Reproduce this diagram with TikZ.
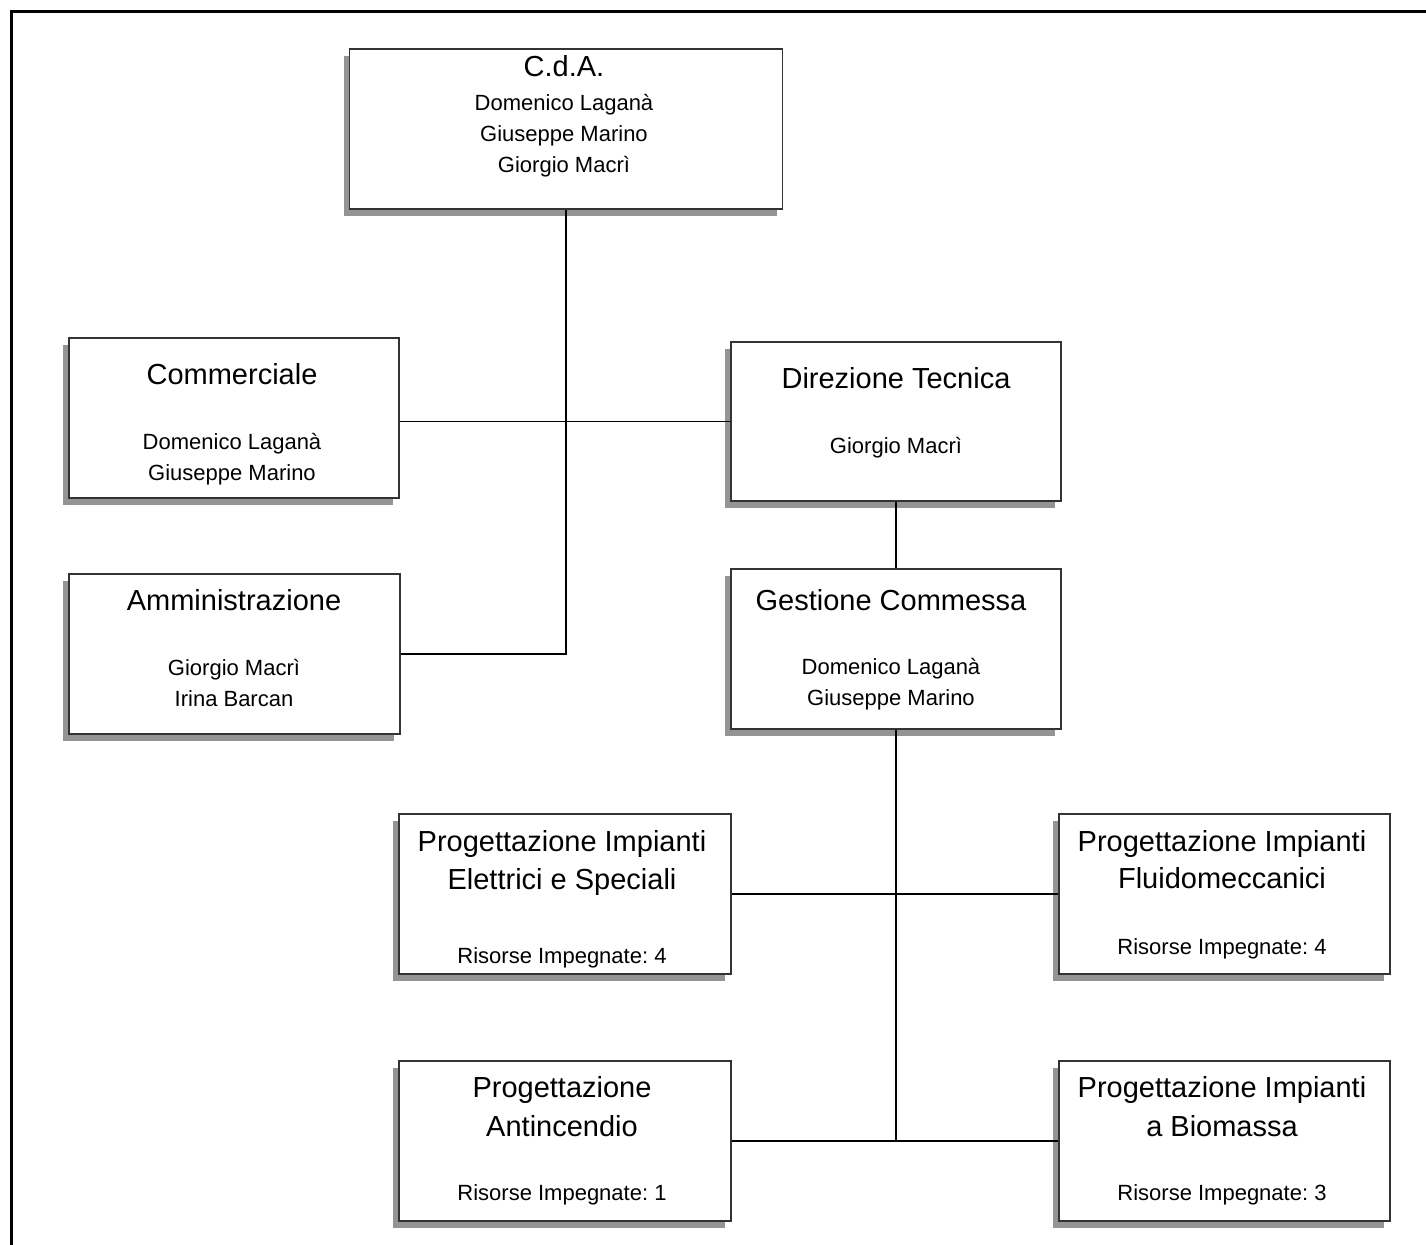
\documentclass[tikz,border=0pt]{standalone}
\usepackage{fontspec}
\setmainfont{Liberation Sans}
\usetikzlibrary{shadows}
\frenchspacing
\tikzset{
  orgbox/.style={draw=black!80, line width=0.65pt, fill=white, inner sep=0pt,
    drop shadow={shadow xshift=-3pt, shadow yshift=-3.5pt, fill=black!42, opacity=1}},
  ttl/.style={anchor=base, inner sep=0pt, font=\fontsize{14.5pt}{17pt}\selectfont},
  nm/.style={anchor=base, inner sep=0pt, font=\fontsize{11pt}{13pt}\selectfont},
  link/.style={draw=black, line width=0.6pt}
}
\begin{document}
\begin{tikzpicture}[x=0.5pt,y=-0.5pt]
\useasboundingbox (0,0) rectangle (1426,1245);
% outer frame (top and left edges visible)
\draw[line width=1.5pt] (11.5,1260) -- (11.5,11.5) -- (1440,11.5);

% boxes
\node[orgbox, minimum width=216.5pt, minimum height=80pt] (cda) at (566,129) {};
\node[orgbox, minimum width=165pt, minimum height=80pt] (com) at (234,418) {};
\node[orgbox, minimum width=165pt, minimum height=79.5pt] (dir) at (896,421.5) {};
\node[orgbox, minimum width=165.5pt, minimum height=80pt] (amm) at (234.5,654) {};
\node[orgbox, minimum width=165pt, minimum height=80pt] (ges) at (896,649) {};
\node[orgbox, minimum width=166pt, minimum height=80pt] (pies) at (565,894) {};
\node[orgbox, minimum width=165.5pt, minimum height=80pt] (pif) at (1224.5,894) {};
\node[orgbox, minimum width=166pt, minimum height=80pt] (pa) at (565,1141) {};
\node[orgbox, minimum width=165.5pt, minimum height=80pt] (pib) at (1224.5,1141) {};

% connectors
\draw[link] (cda.south) |- (amm.east);
\draw[link] (com.east |- dir.west) -- (dir.west);
\draw[link] (dir.south) -- (ges.north);
\coordinate (jb) at (ges.south |- pa.east);
\draw[link] (ges.south) -- (jb);
\draw[link] (pies.east) -- (pif.west);
\draw[link] (pa.east) -- (pib.west);

% texts: C.d.A.
\node[ttl] (t1) at (564,77) {C.d.A.};
\node[nm] (t1a) at (564,111) {Domenico Laganà};
\node[nm] (t1b) at (564,142) {Giuseppe Marino};
\node[nm] (t1c) at (564,173) {Giorgio Macrì};
% Commerciale
\node[ttl] (t2) at (232,385) {Commerciale};
\node[nm] (t2a) at (232,450) {Domenico Laganà};
\node[nm] (t2b) at (232,481) {Giuseppe Marino};
% Direzione Tecnica
\node[ttl] (t3) at (896,389) {Direzione Tecnica};
\node[nm] (t3a) at (896,454) {Giorgio Macrì};
% Amministrazione
\node[ttl] (t4) at (234,611) {Amministrazione};
\node[nm] (t4a) at (234,676) {Giorgio Macrì};
\node[nm] (t4b) at (234,707) {Irina Barcan};
% Gestione Commessa
\node[ttl] (t5) at (891,611) {Gestione Commessa};
\node[nm] (t5a) at (891,675) {Domenico Laganà};
\node[nm] (t5b) at (891,706) {Giuseppe Marino};
% PIES
\node[ttl] (t6) at (562,852) {Progettazione Impianti};
\node[ttl] (t6b) at (562,890) {Elettrici e Speciali};
\node[nm] (t6c) at (562,964) {Risorse Impegnate: 4};
% PIF
\node[ttl] (t7) at (1222,852) {Progettazione Impianti};
\node[ttl] (t7b) at (1222,889) {Fluidomeccanici};
\node[nm] (t7c) at (1222,955) {Risorse Impegnate: 4};
% PA
\node[ttl] (t8) at (562,1097) {Progettazione};
\node[ttl] (t8b) at (562,1136) {Antincendio};
\node[nm] (t8c) at (562,1200) {Risorse Impegnate: 1};
% PIB
\node[ttl] (t9) at (1222,1097) {Progettazione Impianti};
\node[ttl] (t9b) at (1222,1136) {a Biomassa};
\node[nm] (t9c) at (1222,1200) {Risorse Impegnate: 3};
\end{tikzpicture}
\end{document}
